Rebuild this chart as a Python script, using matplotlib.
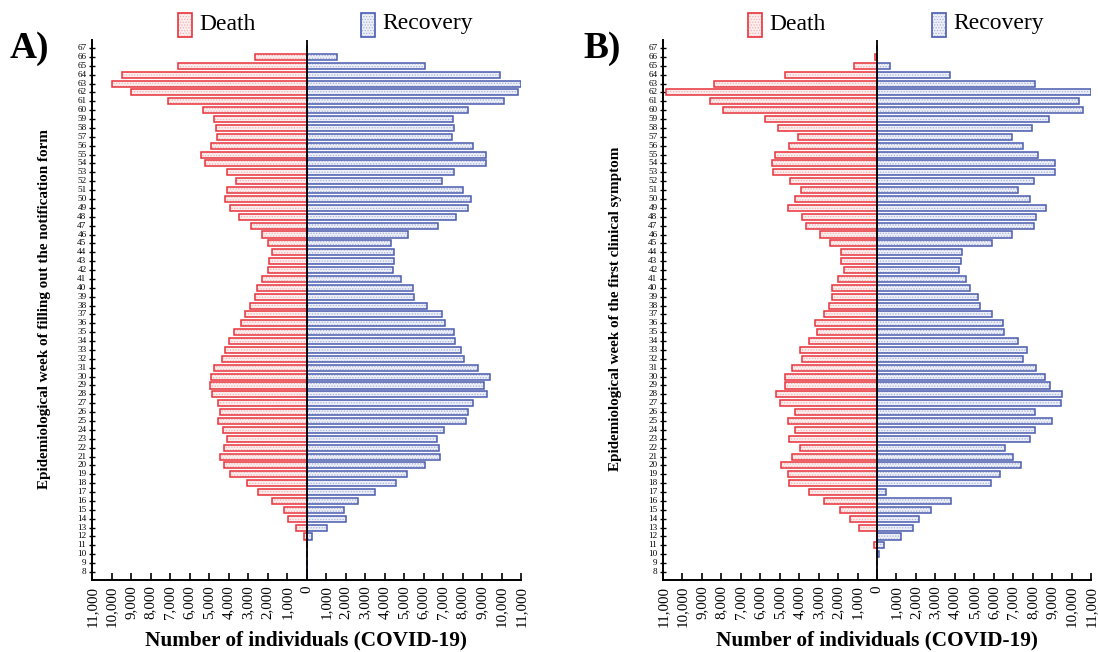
import matplotlib
matplotlib.use("Agg")
import matplotlib.pyplot as plt
from matplotlib.patches import Rectangle
from matplotlib.ticker import FuncFormatter
import numpy as np

plt.rcParams['font.family'] = ['Liberation Serif', 'DejaVu Serif']
plt.rcParams['hatch.linewidth'] = 0.6

weeks = list(range(8, 68))

# Panel A: week of filling out the notification form (values for weeks 8..67)
death_a = [0, 0, 0, 0, 120, 530, 940, 1150, 1750, 2500, 3070, 3910,
           4250, 4440, 4220, 4080, 4280, 4520, 4460, 4520, 4850, 4950, 4900, 4730,
           4350, 4200, 3990, 3720, 3360, 3140, 2890, 2640, 2540, 2260, 1990, 1900,
           1780, 1950, 2300, 2830, 3440, 3920, 4200, 4060, 3630, 4080, 5230, 5410,
           4880, 4610, 4660, 4750, 5330, 7110, 8980, 10000, 9480, 6600, 2650, 0]
recovery_a = [0, 0, 0, 0, 270, 1060, 2000, 1940, 2620, 3500, 4610, 5170,
              6080, 6850, 6800, 6670, 7060, 8160, 8290, 8520, 9250, 9120, 9420, 8810,
              8100, 7900, 7610, 7540, 7080, 6960, 6190, 5520, 5470, 4830, 4440, 4470,
              4510, 4320, 5230, 6720, 7680, 8290, 8450, 8040, 6970, 7570, 9180, 9200,
              8530, 7440, 7560, 7520, 8260, 10140, 10830, 11000, 9900, 6070, 1580, 0]

# Panel B: week of the first clinical symptom (values for weeks 8..67)
death_b = [0, 0, 0, 140, 0, 920, 1370, 1920, 2700, 3510, 4530, 4600,
           4930, 4350, 3970, 4520, 4240, 4590, 4190, 5010, 5200, 4740, 4740, 4360,
           3880, 3970, 3490, 3100, 3180, 2750, 2480, 2310, 2290, 2020, 1710, 1850,
           1830, 2410, 2940, 3660, 3830, 4570, 4190, 3920, 4470, 5360, 5390, 5220,
           4530, 4040, 5080, 5770, 7900, 8590, 10850, 8380, 4740, 1200, 90, 0]
recovery_b = [0, 0, 90, 380, 1250, 1830, 2160, 2790, 3820, 480, 5850, 6310,
              7410, 7000, 6570, 7840, 8110, 9020, 8110, 9460, 9500, 8900, 8640, 8160,
              7510, 7720, 7240, 6550, 6470, 5890, 5270, 5170, 4770, 4600, 4240, 4340,
              4360, 5920, 6950, 8090, 8160, 8690, 7870, 7270, 8090, 9150, 9150, 8300,
              7510, 6930, 7970, 8850, 10610, 10380, 11000, 8130, 3730, 680, 0, 0]

x_ticks = list(range(-11000, 11001, 1000))
panel_labels = ["A)", "B)"]
y_labels = ["Epidemiological week of filling out the notification form",
            "Epidemiological week of the first clinical symptom"]
x_label = "Number of individuals (COVID-19)"
legend_labels = ["Death", "Recovery"]

RED = '#e8333b'
RED_FILL = '#fbeeee'
RED_HATCH = '#f2b4b6'
BLUE = '#4a5cb0'
BLUE_FILL = '#eef0f8'
BLUE_HATCH = '#a9b2d8'

W, H = 1098, 652
fig = plt.figure(figsize=(W / 100, H / 100), dpi=100)

ax_a = fig.add_axes([92 / W, 1 - 580 / H, (521 - 92) / W, 540 / H])
ax_b = fig.add_axes([663 / W, 1 - 580 / H, (1091 - 663) / W, 540 / H])


def draw_bars(ax, death, recovery):
    y = np.array(weeks)
    d = -np.array(death)
    r = np.array(recovery)
    h = 0.68
    ax.barh(y, d, height=h, color=RED_FILL, edgecolor=RED_HATCH, hatch='......', linewidth=0, zorder=2)
    ax.barh(y, d, height=h, fill=False, edgecolor=RED, linewidth=1.1, zorder=3)
    ax.barh(y, r, height=h, color=BLUE_FILL, edgecolor=BLUE_HATCH, hatch='......', linewidth=0, zorder=2)
    ax.barh(y, r, height=h, fill=False, edgecolor=BLUE, linewidth=1.1, zorder=3)
    ax.axvline(0, color='black', linewidth=1.3, zorder=4)
    ax.set_xlim(-11000, 11000)
    ax.set_ylim(7.1, 67.9)
    ax.set_yticks(weeks)
    ax.set_yticklabels([str(w) for w in weeks], fontsize=6.6)
    ax.set_xticks(x_ticks)
    ax.xaxis.set_major_formatter(FuncFormatter(lambda v, p: f"{abs(int(v)):,}"))
    ax.tick_params(axis='x', labelsize=10.8, rotation=90, direction='in', length=5, width=1.2, pad=4)
    ax.tick_params(axis='y', direction='inout', length=5, width=1.0, pad=1.5)
    for s in ['top', 'right']:
        ax.spines[s].set_visible(False)
    for s in ['left', 'bottom']:
        ax.spines[s].set_linewidth(1.4)
    for lbl in ax.get_yticklabels():
        lbl.set_verticalalignment('center')


draw_bars(ax_a, death_a, recovery_a)
draw_bars(ax_b, death_b, recovery_b)

fig.text(306 / W, 1 - 640 / H, x_label, fontsize=15.3, fontweight='bold', ha='center', va='center')
fig.text(877 / W, 1 - 640 / H, x_label, fontsize=15.3, fontweight='bold', ha='center', va='center')

fig.text(45 / W, 1 - 309 / H, y_labels[0], rotation=90, fontsize=10.9, fontweight='bold',
         ha='center', va='center')
fig.text(615 / W, 1 - 309 / H, y_labels[1], rotation=90, fontsize=10.9, fontweight='bold',
         ha='center', va='center')

fig.text(10 / W, 1 - 48 / H, panel_labels[0], fontsize=27, fontweight='bold', ha='left', va='center')
fig.text(583 / W, 1 - 48 / H, panel_labels[1], fontsize=27, fontweight='bold', ha='left', va='center')


def legend_item(x0, text, fill, hatch_c, edge):
    y0 = 1 - 37 / H
    w = 14 / W
    h = 24 / H
    fig.patches.append(Rectangle((x0 / W, y0), w, h, transform=fig.transFigure,
                                 facecolor=fill, edgecolor=hatch_c, hatch='......', linewidth=0))
    fig.patches.append(Rectangle((x0 / W, y0), w, h, transform=fig.transFigure,
                                 fill=False, edgecolor=edge, linewidth=1.2))
    fig.text((x0 + 21) / W, 1 - 24 / H, text, fontsize=17, ha='left', va='center')


legend_item(178, legend_labels[0], RED_FILL, RED_HATCH, RED)
legend_item(361, legend_labels[1], BLUE_FILL, BLUE_HATCH, BLUE)
legend_item(748, legend_labels[0], RED_FILL, RED_HATCH, RED)
legend_item(932, legend_labels[1], BLUE_FILL, BLUE_HATCH, BLUE)

fig.savefig("out.png", dpi=100)
